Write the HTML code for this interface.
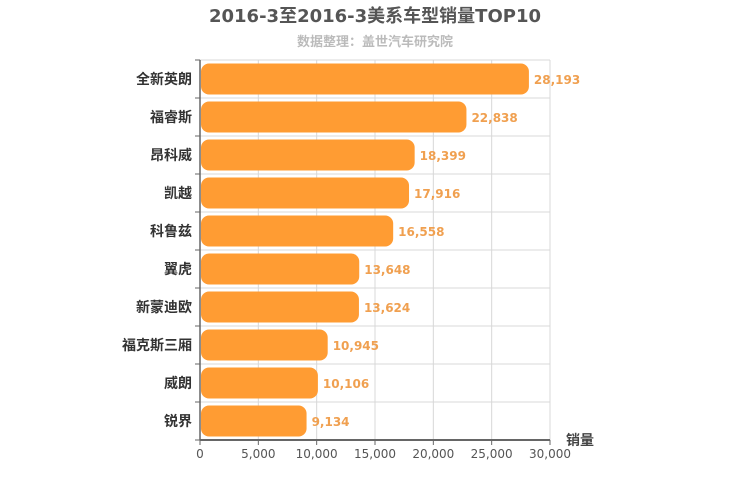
<!DOCTYPE html>
<html><head><meta charset="utf-8"><style>
body{margin:0;background:#fff;}
svg{display:block;font-family:"DejaVu Sans","Liberation Sans","Noto Sans CJK SC",sans-serif;}
</style></head><body>
<svg id="chart" width="750" height="500">
<text x="375" y="22" text-anchor="middle" font-size="18" font-weight="bold" fill="#555">2016-3至2016-3美系车型销量TOP10</text>
<text x="375" y="46" text-anchor="middle" font-size="13" font-weight="bold" fill="#bbb">数据整理：盖世汽车研究院</text>
<g id="grid"></g><g id="bars"></g><g id="axes"></g>
<text x="580" y="445" text-anchor="middle" font-size="14" font-weight="bold" fill="#444">销量</text>
</svg>
<script>
const categories=["全新英朗","福睿斯","昂科威","凯越","科鲁兹","翼虎","新蒙迪欧","福克斯三厢","威朗","锐界"];
const values=[28193,22838,18399,17916,16558,13648,13624,10945,10106,9134];
const ticks=[0,5000,10000,15000,20000,25000,30000];
const tickLabels=["0","5,000","10,000","15,000","20,000","25,000","30,000"];
const NS="http://www.w3.org/2000/svg";
const X0=200,X1=550,Y0=60,Y1=440,MAX=30000;
const row=(Y1-Y0)/categories.length;
const xs=v=>X0+v*(X1-X0)/MAX;
function mk(t,a,p){const e=document.createElementNS(NS,t);for(const k in a)e.setAttribute(k,a[k]);p.appendChild(e);return e;}
const g=document.getElementById('grid'),b=document.getElementById('bars'),ax=document.getElementById('axes');
ticks.forEach((t,i)=>{
 const l=mk('line',{x1:xs(t),x2:xs(t),y1:Y0,y2:Y1,stroke:'#d8d8d8'},g);
 
 
 const tk=mk('line',{x1:xs(t),x2:xs(t),y1:Y1,y2:Y1+5,stroke:'#666'},ax);
 
 
 const tx=mk('text',{x:xs(t),y:Y1+18,'text-anchor':'middle','font-size':12,fill:'#555'},ax);
 tx.textContent=tickLabels[i];
 
 
});
for(let i=0;i<=categories.length;i++){
 const y=Y0+i*row;
 const l=mk('line',{x1:X0,x2:X1,y1:y,y2:y,stroke:'#d8d8d8'},g);
 
 
 const tk=mk('line',{x1:X0-5,x2:X0,y1:y,y2:y,stroke:'#666'},ax);
 
 
}
categories.forEach((c,i)=>{
 const yc=Y0+row*(i+0.5);
 const r=mk('rect',{x:X0+1,y:yc-15.5,width:xs(values[i])-X0-1,height:31,rx:8,fill:'#ff9c33'},b);
 
 
 const v=mk('text',{x:xs(values[i])+5,y:yc+5,'font-size':12,'font-weight':'bold',fill:'#f0a050'},b);
 v.textContent=values[i].toLocaleString('en-US');
 
 
 const t=mk('text',{x:X0-8,y:yc+5,'text-anchor':'end','font-size':14,'font-weight':'bold',fill:'#333'},ax);
 t.textContent=c;
 
 
});
const a1=mk('line',{x1:X0,x2:X1,y1:Y1,y2:Y1,stroke:'#666','stroke-width':2},ax);


const a2=mk('line',{x1:X0,x2:X0,y1:Y0,y2:Y1,stroke:'#666','stroke-width':1.5},ax);


</script>
</body></html>
